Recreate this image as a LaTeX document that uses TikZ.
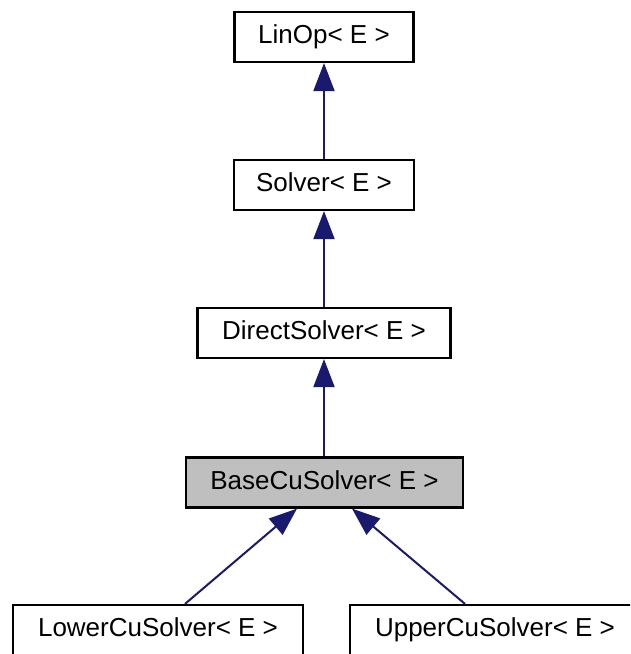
\documentclass[tikz,border=0pt]{standalone}
\usepackage{fontspec}
\setmainfont{Liberation Sans}
\usepackage{tikz}
\usetikzlibrary{arrows.meta}
\definecolor{edgeblue}{HTML}{191970}
\definecolor{basegray}{HTML}{BFBFBF}

\begin{document}
\begin{tikzpicture}[
	x=1pt, y=-1pt,
	cls/.style={draw=black, line width=2.2pt, fill=white, inner sep=0pt,
		minimum height=50pt, text height=19pt, text depth=6pt,
		font=\fontsize{26}{30}\selectfont},
	inh/.style={draw=edgeblue, line width=2pt,
		{Triangle[length=28pt, width=21pt]}-}
	]
	
	\clip (0,0) rectangle (630,654);
	
	\node[cls, minimum width=179pt] (linop) at (324,37)
		{LinOp< E >};
	\node[cls, minimum width=180pt] (solver) at (324,185)
		{Solver< E >};
	\node[cls, minimum width=253pt] (direct) at (324,333)
		{DirectSolver< E >};
	\node[cls, minimum width=277pt, fill=basegray] (base) at (324.5,482.5)
		{BaseCuSolver< E >};
	\node[cls, minimum width=290pt] (lower) at (158,630)
		{LowerCuSolver< E >};
	\node[cls, minimum width=290pt] (upper) at (495,630)
		{UpperCuSolver< E >};
	
	\draw[inh] (linop.south) -- (solver.north);
	\draw[inh] (solver.south) -- (direct.north);
	\draw[inh] (direct.south) -- ([xshift=-0.5pt]base.north);
	\draw[inh] ([xshift=-27.5pt]base.south) -- ([xshift=27pt]lower.north);
	\draw[inh] ([xshift=27.5pt]base.south) -- ([xshift=-30pt]upper.north);
\end{tikzpicture}
\end{document}
